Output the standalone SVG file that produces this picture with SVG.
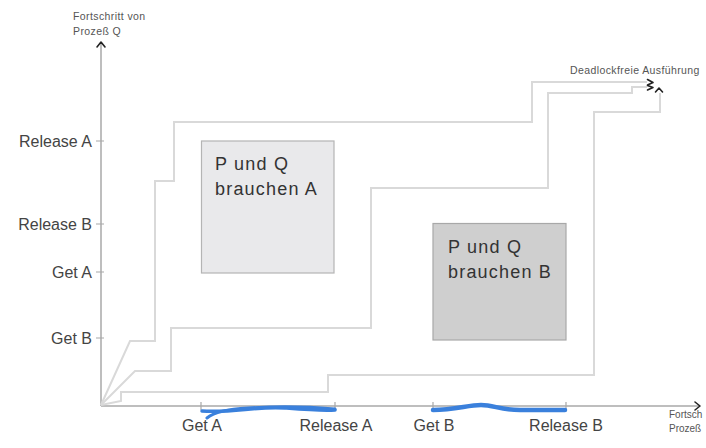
<svg xmlns="http://www.w3.org/2000/svg" width="706" height="448" viewBox="0 0 706 448">
<style>
.lbl{font-family:"Liberation Sans",Arial,sans-serif;font-size:16px;fill:#444}
.small{font-family:"Liberation Sans",Arial,sans-serif;font-size:10.5px;fill:#555;letter-spacing:0.4px}
.tiny{font-family:"Liberation Sans",Arial,sans-serif;font-size:10px;fill:#555}
.box{font-family:"Liberation Sans",Arial,sans-serif;font-size:18px;fill:#333;letter-spacing:1.2px}
.axis{stroke:#a8a8a8;stroke-width:1.5;fill:none}
.tick{stroke:#a8a8a8;stroke-width:1.2}
.path{stroke:#d9d9d9;stroke-width:2;fill:none;stroke-linejoin:miter}
.head{stroke:#222;stroke-width:1.6;fill:none;stroke-linecap:round;stroke-linejoin:round}
.blue{stroke:#3a80dc;fill:none;stroke-linecap:round;stroke-linejoin:round}
</style>
<rect x="0" y="0" width="706" height="448" fill="#ffffff"/>

<g id="axes">
  <path class="axis" d="M101,406 L101,42"/>
  <path class="axis" d="M101,406 L699,406"/>
  <path class="head" d="M97,47 L101,42 L105,47"/>
  <path class="head" d="M695,402 L700,406 L695,410"/>
  <path class="tick" d="M96,141 H104 M96,224 H104 M96,272 H104 M96,338 H104"/>
  <path class="tick" d="M201,402 V410 M335,402 V410 M433,402 V410 M566,402 V410"/>
</g>

<g id="box-a">
  <rect x="201.5" y="141" width="132.5" height="132" fill="#e9e9eb" stroke="#b4b4b4" stroke-width="1.2"/>
  <text class="box" x="215" y="170">P und Q</text>
  <text class="box" x="215" y="195">brauchen A</text>
</g>

<g id="box-b">
  <rect x="433" y="223.5" width="133" height="116.5" fill="#cfcfcf" stroke="#a8a8a8" stroke-width="1.2"/>
  <text class="box" x="448" y="253">P und Q</text>
  <text class="box" x="448" y="278">brauchen B</text>
</g>

<g id="connectors">
  <path class="path" d="M101,405 L130,341 L155,341 L155,181 L174,181 L174,122 L532,122 L532,82 L647,82"/>
  <path class="path" d="M101,405 L135,371 L171,371 L171,328 L371,328 L371,188 L548,188 L548,93 L632,93 L632,87 L647,87"/>
  <path class="path" d="M101,405 L121,401 L121,392 L328,392 L328,375 L594,375 L594,112 L660,112 L660,93"/>
  <path class="head" d="M647.5,79.5 L653,82.5 L647.5,85 M647.5,85.5 L653,87.5 L647.5,90"/>
  <path class="head" d="M655.5,92 L659,88 L662.5,92"/>
</g>

<g id="blue-marks">
  <path class="blue" stroke-width="3.5" d="M202,411 C235,413 255,406 285,408 C310,410 322,411 335,410"/>
  <path class="blue" stroke-width="3" d="M207,418 C214,412 228,409 248,408 C280,406 312,407 335,409"/>
  <path class="blue" stroke-width="4.5" d="M433,410 C455,410 468,405 481,405 C494,405 500,410 520,410 L565,410"/>
</g>

<g id="labels-q">
  <text class="small" x="73" y="20">Fortschritt von</text>
  <text class="small" x="73" y="35">Prozeß Q</text>
  <text class="lbl" x="92" y="147" text-anchor="end">Release A</text>
  <text class="lbl" x="92" y="230" text-anchor="end">Release B</text>
  <text class="lbl" x="92" y="278" text-anchor="end">Get A</text>
  <text class="lbl" x="92" y="344" text-anchor="end">Get B</text>
</g>

<g id="labels-p">
  <text class="lbl" x="202" y="431" text-anchor="middle">Get A</text>
  <text class="lbl" x="336" y="431" text-anchor="middle">Release A</text>
  <text class="lbl" x="434" y="431" text-anchor="middle">Get B</text>
  <text class="lbl" x="566" y="431" text-anchor="middle">Release B</text>
  <text class="tiny" x="669" y="418">Fortsch</text>
  <text class="tiny" x="669" y="432">Prozeß</text>
</g>

<g id="label-deadlockfree">
  <text class="small" x="570" y="74">Deadlockfreie Ausführung</text>
</g>
</svg>
